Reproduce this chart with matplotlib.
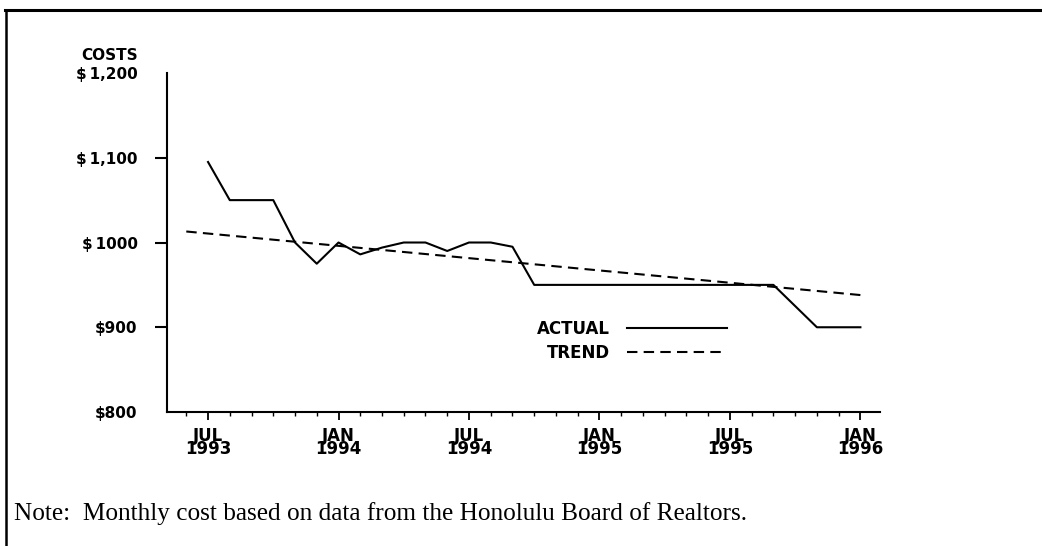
import matplotlib
matplotlib.use("Agg")
import matplotlib.pyplot as plt
from matplotlib.lines import Line2D
from matplotlib.ticker import MultipleLocator

# months counted from JUL 1993 (0) to JAN 1996 (30)
months = list(range(0, 31))
actual = [1095, 1050, 1050, 1050, 1000, 975, 1000, 986, 994, 1000,
          1000, 990, 1000, 1000, 995, 950, 950, 950, 950, 950,
          950, 950, 950, 950, 950, 950, 950, 925, 900, 900, 900]

trend_months = [-1, 30]
trend_values = [1013, 938]

x_ticks = [0, 6, 12, 18, 24, 30]
x_labels = ["JUL\n1993", "JAN\n1994", "JUL\n1994", "JAN\n1995", "JUL\n1995", "JAN\n1996"]
y_ticks = [800, 900, 1000, 1100, 1200]
y_labels = ["$800", "$900", "$\u20091000", "$\u20091,100", "$\u20091,200"]

label_font = dict(family="DejaVu Sans", weight="bold")

fig = plt.figure(figsize=(10.42, 5.46), dpi=100)
ax = fig.add_axes([0.160, 0.2454, 0.6845, 0.6209])

ax.plot(months, actual, color="black", lw=1.5, label="ACTUAL")
ax.plot(trend_months, trend_values, color="black", lw=1.5,
        dashes=(5, 3), label="TREND")

ax.set_xlim(-1.9, 30.9)
ax.set_ylim(800, 1200)

for s in ["top", "right"]:
    ax.spines[s].set_visible(False)
for s in ["left", "bottom"]:
    ax.spines[s].set_linewidth(1.5)

ax.set_xticks(x_ticks)
ax.set_xticklabels(x_labels, fontsize=12, linespacing=0.6, **label_font)
ax.xaxis.set_minor_locator(MultipleLocator(1))
ax.tick_params(axis="x", which="major", direction="out", length=6, width=1.3, pad=5)
ax.tick_params(axis="x", which="minor", direction="out", length=3, width=1.0)

ax.set_yticks(y_ticks)
ax.set_yticklabels(y_labels, fontsize=11, **label_font)
ax.tick_params(axis="y", direction="out", length=9, width=1.5, pad=12)
# no tick marks at the two end values
for t in (ax.yaxis.get_major_ticks()[0], ax.yaxis.get_major_ticks()[-1]):
    t.tick1line.set_visible(False)

fig.text(138 / 1042, 1 - 55 / 546, "COSTS", ha="right", va="center",
         fontsize=11, **label_font)

leg = ax.legend(loc="center", bbox_to_anchor=(0.652, 0.21), frameon=False,
                markerfirst=False, handlelength=6.0, handletextpad=1.0,
                labelspacing=0.35, prop=dict(size=12, **label_font))

# outer frame (top and left edges only)
fig.add_artist(Line2D([5 / 1042, 1.0], [1 - 10 / 546, 1 - 10 / 546],
                      transform=fig.transFigure, color="black", lw=2.2))
fig.add_artist(Line2D([6 / 1042, 6 / 1042], [1 - 10 / 546, 0.0],
                      transform=fig.transFigure, color="black", lw=1.8))

fig.text(14 / 1042, 1 - 520 / 546,
         "Note:  Monthly cost based on data from the Honolulu Board of Realtors.",
         ha="left", va="baseline", fontsize=18.2, family="Liberation Serif")

fig.savefig("out.png", dpi=100)
